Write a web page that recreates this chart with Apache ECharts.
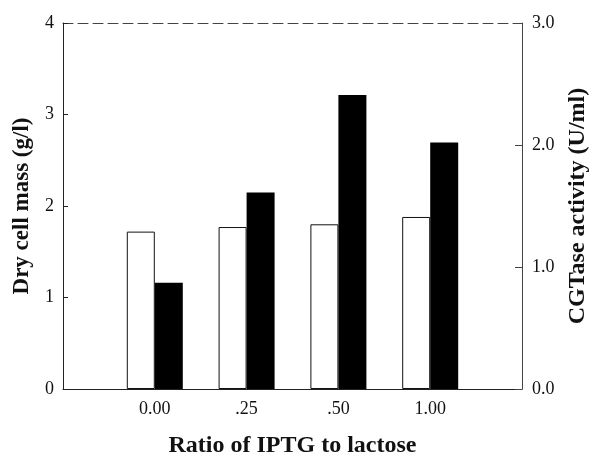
<!DOCTYPE html>
<html>
<head>
<meta charset="utf-8">
<script src="https://cdn.jsdelivr.net/npm/echarts@6/dist/echarts.min.js"></script>
<style>html,body{margin:0;padding:0;background:#fff;}#c{width:591px;height:454px;}</style>
</head>
<body>
<div id="c"></div>
<script>
const categories = ['', '0.00', '.25', '.50', '1.00', ''];
const dryCellMass = [null, 1.72, 1.77, 1.80, 1.88, null];
const cgtaseActivity = [null, 0.87, 1.61, 2.41, 2.02, null];
const leftTicks = [0, 1, 2, 3, 4];
const rightTicks = ['0.0', '1.0', '2.0', '3.0'];

const font = 'Liberation Serif';
const chart = echarts.init(document.getElementById('c'), null, {renderer: 'canvas'});
chart.setOption({
  animation: false,
  backgroundColor: '#fff',
  grid: {left: 63, right: 69, top: 23, bottom: 65, containLabel: false, outerBoundsMode: 'none'},
  xAxis: [{
    type: 'category',
    data: categories,
    boundaryGap: false,
    position: 'bottom',
    name: 'Ratio of IPTG to lactose',
    nameLocation: 'middle',
    nameGap: 45,
    nameTextStyle: {fontFamily: font, fontSize: 24, fontWeight: 'bold', color: '#111'},
    axisLine: {show: true, onZero: false, lineStyle: {color: '#222', width: 1}},
    axisTick: {show: false},
    axisLabel: {fontFamily: font, fontSize: 18, color: '#111', margin: 11, interval: 0},
    splitLine: {show: false}
  }, {
    type: 'category',
    data: categories,
    boundaryGap: false,
    position: 'top',
    axisLine: {show: true, onZero: false, lineStyle: {color: '#444', width: 1, type: [10, 5]}},
    axisTick: {show: false},
    axisLabel: {show: false},
    splitLine: {show: false}
  }],
  yAxis: [{
    type: 'value',
    min: 0, max: 4, interval: 1,
    position: 'left',
    name: 'Dry cell mass (g/l)',
    nameLocation: 'middle',
    nameRotate: 90,
    nameGap: 29,
    nameTextStyle: {fontFamily: font, fontSize: 23, fontWeight: 'bold', color: '#111'},
    axisLine: {show: true, onZero: false, lineStyle: {color: '#222', width: 1}},
    axisTick: {show: true, inside: true, length: 5, lineStyle: {color: '#222'}},
    axisLabel: {fontFamily: font, fontSize: 18, color: '#111', margin: 9,
      formatter: v => String(leftTicks[Math.round(v)])},
    splitLine: {show: false}
  }, {
    type: 'value',
    min: 0, max: 3, interval: 1,
    position: 'right',
    name: 'CGTase activity (U/ml)',
    nameLocation: 'middle',
    nameRotate: 90,
    nameGap: 40,
    nameTextStyle: {fontFamily: font, fontSize: 24, fontWeight: 'bold', color: '#111'},
    axisLine: {show: true, onZero: false, lineStyle: {color: '#444', width: 1}},
    axisTick: {show: true, inside: true, length: 7, lineStyle: {color: '#444'}},
    axisLabel: {fontFamily: font, fontSize: 18, color: '#111', margin: 10,
      formatter: v => rightTicks[Math.round(v)]},
    splitLine: {show: false}
  }],
  series: [{
    type: 'bar',
    name: 'Dry cell mass',
    data: dryCellMass,
    xAxisIndex: 0,
    yAxisIndex: 0,
    barWidth: 28,
    barGap: '0%',
    itemStyle: {color: '#fff', borderColor: '#111', borderWidth: 1}
  }, {
    type: 'bar',
    name: 'CGTase activity',
    data: cgtaseActivity,
    xAxisIndex: 0,
    yAxisIndex: 1,
    barWidth: 28,
    barGap: '0%',
    itemStyle: {color: '#000', borderColor: '#000', borderWidth: 0}
  }]
});
</script>
</body>
</html>
